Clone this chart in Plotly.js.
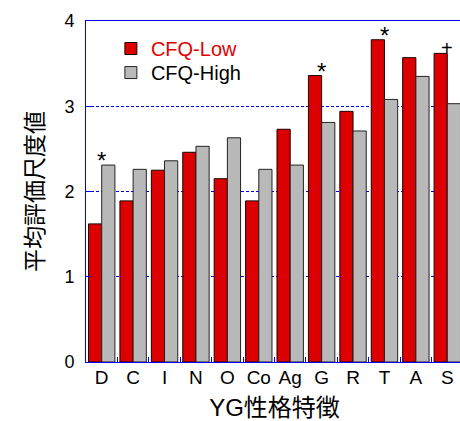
<!DOCTYPE html>
<html>
<head>
<meta charset="utf-8">
<script src="https://cdn.plot.ly/plotly-3.0.1.min.js"></script>
<style>
html,body{margin:0;padding:0;overflow:hidden;background:#fff;}
#chart{width:463px;height:421px;}
</style>
</head>
<body>
<div id="chart"></div>
<script>
const categories = ['D','C','I','N','O','Co','Ag','G','R','T','A','S'];
const cfqLow  = [1.62,1.89,2.25,2.46,2.15,1.89,2.73,3.36,2.94,3.78,3.57,3.62];
const cfqHigh = [2.31,2.26,2.36,2.53,2.63,2.26,2.31,2.81,2.71,3.08,3.35,3.03];
const sigMarks = ['*','','','','','','','*','','*','','+'];
const yTicks = [0,1,2,3,4];

const FONT = 'Liberation Sans, Arial, "Noto Sans CJK JP", sans-serif';
const BLUE = '#0000ee';

const traces = [
  {type:'bar', x:categories, y:cfqLow, name:'<span style="color:#e00000">CFQ-Low</span>',
   legend:'legend',
   marker:{color:'#dc0000', line:{color:'#1a0000', width:1}}},
  {type:'bar', x:categories, y:cfqHigh, name:'CFQ-High',
   legend:'legend2',
   marker:{color:'#b9b9b9', line:{color:'#222222', width:1}}}
];

const annotations = [];
categories.forEach((c,i)=>{
  const m = sigMarks[i];
  if(m){
    annotations.push({x:c, y:Math.max(cfqLow[i],cfqHigh[i]), xref:'x', yref:'y',
      text:m, showarrow:false, yanchor:'bottom', yshift:(m==='*'?-11:-8),
      font:{family:FONT, size:(m==='*'?24:20), color:'#000'}});
  }
});

const legendBase = {xanchor:'left', yanchor:'top', bgcolor:'rgba(0,0,0,0)',
                    font:{family:FONT, size:20, color:'#000'}};

const layout = {
  width:463, height:421,
  margin:{l:86, r:0, t:21, b:59},
  paper_bgcolor:'#fff', plot_bgcolor:'#fff',
  font:{family:FONT, color:'#000'},
  barmode:'group', bargap:0.16, bargroupgap:0,
  showlegend:true,
  legend:Object.assign({x:0.066, y:0.9765}, legendBase),
  legend2:Object.assign({x:0.066, y:0.906}, legendBase),
  xaxis:{type:'category', showline:true, linecolor:BLUE, linewidth:1, mirror:true,
         ticks:'inside', tickson:'boundaries', ticklen:5, tickcolor:BLUE, tickangle:0,
         showgrid:false, tickfont:{family:FONT, size:19}, ticklabelstandoff:-2,
         title:{text:'YG性格特徴', font:{family:FONT, size:24}, standoff:14}},
  yaxis:{range:[0,4], tickvals:yTicks, ticktext:yTicks.map(String), showline:true, linecolor:BLUE, linewidth:1,
         ticks:'inside', ticklen:5, tickcolor:BLUE, zeroline:false,
         showgrid:true, gridcolor:BLUE, gridwidth:1, griddash:'3px,2px',
         tickfont:{family:FONT, size:18}, ticklabelstandoff:7,
         title:{text:'平均評価尺度値', font:{family:FONT, size:23}, standoff:14}},
  annotations:annotations
};

Plotly.newPlot('chart', traces, layout, {displayModeBar:false, staticPlot:true});
</script>
</body>
</html>
